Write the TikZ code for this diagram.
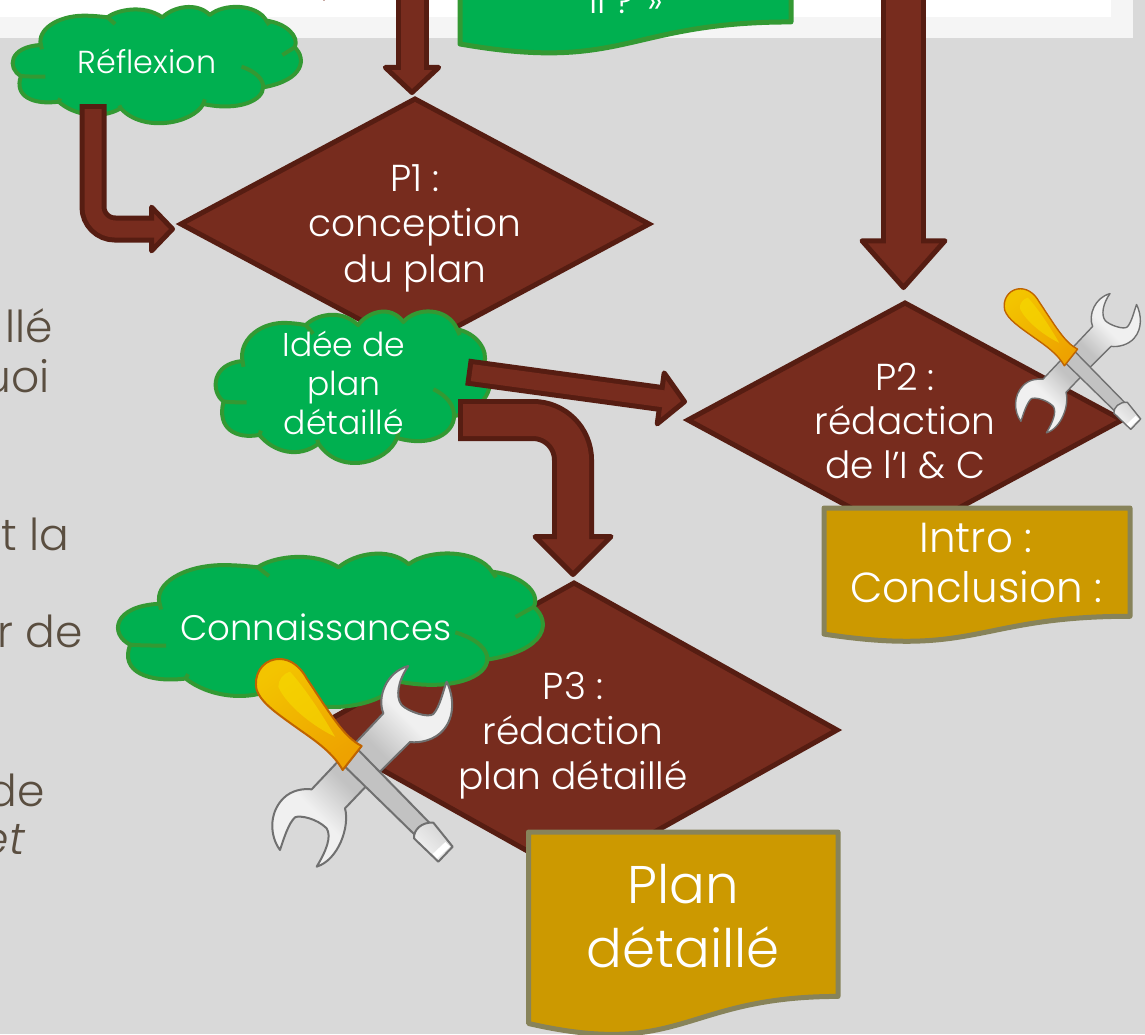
\documentclass[tikz,border=0pt]{standalone}
\usepackage{fontspec}
\setmainfont{Poppins}[UprightFont=* Light,ItalicFont=* Light Italic]
\usetikzlibrary{arrows.meta,shapes.geometric,calc}
\definecolor{bgGray}{HTML}{D9D9D9}
\definecolor{bgLight}{HTML}{F5F5F5}
\definecolor{abrown}{HTML}{772C1E}
\definecolor{adark}{HTML}{561D12}
\definecolor{cgreen}{HTML}{00B050}
\definecolor{cedge}{HTML}{339933}
\definecolor{dgold}{HTML}{CC9900}
\definecolor{dedge}{HTML}{87835A}
\definecolor{leftTxt}{HTML}{5A4E40}
\definecolor{wedge}{HTML}{707070}
\definecolor{wlight}{HTML}{F0F0F0}
\definecolor{wmid}{HTML}{C2C2C2}
\definecolor{hedge}{HTML}{C06400}
\definecolor{htop}{HTML}{F3C400}
\definecolor{hbot}{HTML}{EEA200}
\definecolor{hhigh}{HTML}{F6DC00}
\pgfdeclarehorizontalshading{wrenchshade}{100bp}{color(0bp)=(wlight); color(33bp)=(wlight); color(44bp)=(wmid); color(56bp)=(wmid); color(67bp)=(wlight); color(100bp)=(wlight)}
\tikzset{
  decision/.style={diamond,draw=adark,fill=abrown,line width=5pt,aspect=1,inner sep=0pt,outer sep=0pt},
  lab/.style={text=white,align=center,inner sep=0pt},
  sidetext/.style={text=leftTxt,anchor=base east,inner sep=0pt,font=\fontsize{44}{44}\selectfont},
  docstyle/.style={line width=5pt,line join=round},
}
% cloud: x0 y0 width height
\newcommand\cloudshape[4]{%
 \begin{scope}[shift={({#1-35*(#3)/875},{#2-15*(#4)/357})},x=#3pt/875,y=-#4pt/357]
 \filldraw[fill=cgreen,draw=cedge,line width=4pt,line join=round]
 (122,135) .. controls (110,90) and (170,48) .. (250,47)
 .. controls (280,47) and (305,50) .. (322,52)
 .. controls (350,30) and (430,12) .. (487,52)
 .. controls (520,20) and (590,5) .. (630,45)
 .. controls (670,10) and (770,10) .. (800,62)
 .. controls (860,70) and (900,110) .. (885,142)
 .. controls (920,175) and (915,240) .. (790,262)
 .. controls (790,300) and (720,335) .. (610,312)
 .. controls (580,370) and (430,400) .. (362,325)
 .. controls (300,360) and (220,345) .. (175,305)
 .. controls (100,315) and (40,290) .. (62,228)
 .. controls (20,205) and (25,140) .. (122,135) -- cycle;
 \draw[cedge,line width=4pt]
 (322,52) -- (345,72) (122,135) -- (125,148)
 (62,228) .. controls (85,230) and (110,230) .. (135,230)
 (800,62) -- (808,75) (885,142) -- (848,165)
 (790,262) .. controls (792,240) and (770,215) .. (725,200)
 (610,312) -- (615,298) (362,325) -- (358,316) (175,305) -- (180,295);
 \end{scope}}
% document: x0 y0 x1 h fill edge
\newcommand\docshape[6]{%
 \filldraw[docstyle,fill=#5,draw=#6] (#1,#2) -- (#3,#2) -- (#3,{#2+.802*#4})
 .. controls ({(#1+#3)/2},{#2+.802*#4}) and ({(#1+#3)/2},{#2+1.107*#4}) .. (#1,{#2+.934*#4}) -- cycle;}
% block arrow: stem width, head length, head width, path
\newcommand\barrow[4]{%
 \draw[line width=#1pt,color=adark,-{Triangle[length=#2pt,width=#3pt,fill=abrown,color=adark,line width=5pt,round]}] #4;
 \draw[line width={#1pt-10pt},color=abrown,shorten >={#2pt-7pt},shorten <=5pt] #4;}
% tools icon: shiftx shifty unit
\newcommand\toolicon[3]{%
 \begin{scope}[shift={(#1,#2)},x=#3pt,y=-#3pt]
 \pgfmathsetmacro\lw{6*#3}
 \filldraw[draw=wedge,line width=\lw pt,line join=round,shading=wrenchshade,shading angle=45]
 (925,378) .. controls (895,420) and (885,470) .. (905,495)
 .. controls (925,515) and (985,535) .. (1000,522)
 .. controls (1020,500) and (1030,450) .. (1040,425)
 .. controls (1062,470) and (1065,530) .. (1030,570)
 .. controls (1005,600) and (960,610) .. (930,606)
 -- (840,695) -- (735,805)
 .. controls (750,860) and (715,960) .. (650,980)
 .. controls (680,930) and (695,890) .. (680,865)
 .. controls (650,835) and (600,825) .. (585,832)
 .. controls (565,850) and (550,900) .. (540,930)
 .. controls (510,890) and (505,820) .. (550,775)
 .. controls (575,750) and (610,745) .. (635,748)
 -- (850,520)
 .. controls (830,470) and (860,395) .. (925,378) -- cycle;
 \filldraw[draw=wedge,line width=\lw pt,line join=round,fill=wmid] (775,630) -- (990,850) -- (945,885) -- (735,680) -- cycle;
 \filldraw[draw=wedge,line width=\lw pt,line join=round,top color=gray!35,bottom color=gray!8,shading angle=-45]
 (942,895) .. controls (940,870) and (965,845) .. (1000,848) -- (1058,920) -- (1015,965) -- cycle;
 \fill[white] (1050,920) -- (1012,955) -- (998,942) -- (1036,906) -- cycle;
 \filldraw[draw=hedge,line width=\lw pt,line join=round,top color=htop,bottom color=hbot,shading angle=35]
 (728,690) -- (785,618)
 .. controls (730,590) and (690,520) .. (620,415)
 .. controls (595,370) and (560,352) .. (525,358)
 .. controls (485,365) and (460,405) .. (470,450)
 .. controls (485,490) and (530,520) .. (600,570)
 .. controls (650,605) and (700,640) .. (728,690) -- cycle;
 \fill[hhigh,opacity=.6] (570,395) .. controls (620,450) and (670,530) .. (705,590)
 .. controls (650,565) and (560,500) .. (535,440) .. controls (535,420) and (550,400) .. (570,395) -- cycle;
 \end{scope}}
\begin{document}
\begin{tikzpicture}[x=1pt,y=-1pt]
\clip (0,0) rectangle (1145,1034);
\useasboundingbox (0,0) rectangle (1145,1034);
\fill[bgGray] (0,0) rectangle (1145,1034);
\fill[bgLight] (0,0) rectangle (1133,38);
\fill[white] (0,0) rectangle (1111,17);
\fill[abrown!40!white] (322.5,0) rectangle (324.5,1);
% left fragments
\node[sidetext] (l1) at (53,342) {llé};
\node[sidetext] (l2) at (50,392) {uoi};
\node[sidetext] (l3) at (69,550) {t la};
\node[sidetext] (l4) at (83,647) {r de};
\node[sidetext] (l5) at (45,806) {de};
\node[sidetext] (l6) at (25,854) {\itshape et};
% top green document
\docshape{460}{-112}{791}{167}{cgreen}{cedge}
\node[lab,anchor=base,font=\fontsize{36}{40}\selectfont] (topdoc) at (626,13.5) {il ? »};
% clouds and diamonds
\cloudshape{12}{5}{291}{119}
\node[lab,font=\fontsize{31.8}{36}\selectfont] (refl) at (147,61) {Réflexion};
\node[decision,minimum width=468pt,minimum height=250pt] (p1) at (415,224) {};
\node[lab,font=\fontsize{37.5}{45.5}\selectfont] (p1t) at (415,228) {P1 :\\conception\\du plan};
\node[decision,minimum width=434pt,minimum height=234pt] (p2) at (905,420) {};
\node[lab,font=\fontsize{37.5}{44}\selectfont] (p2t) at (905,421) {P2 :\\rédaction\\de l’I \& C};
\node[decision,minimum width=526pt,minimum height=294pt] (p3) at (574,730) {};
\node[lab,font=\fontsize{37.5}{45}\selectfont] (p3t) at (573,735.5) {P3 :\\rédaction\\plan détaillé};
\cloudshape{215}{309}{277}{155}
\node[lab,font=\fontsize{33}{39}\selectfont] (idee) at (344,383) {Idée de\\plan\\détaillé};
\cloudshape{117}{551}{429}{157}
\node[lab,font=\fontsize{35.5}{40}\selectfont] (conn) at (316,627) {Connaissances};
% tools
\toolicon{896}{206.2}{0.2313}
\toolicon{100}{540}{0.33333}
% documents
\docshape{824}{508}{1130}{135}{dgold}{dedge}
\node[lab,font=\fontsize{42}{50}\selectfont] (intro) at (976,563) {Intro :\\Conclusion :};
\docshape{528.5}{832}{838}{205}{dgold}{dedge}
\node[lab,font=\fontsize{53}{64}\selectfont] (plan) at (683,916) {Plan\\détaillé};
% connectors
\coordinate (a1s) at (412,-6); \coordinate (a1e) at (412,95);
\coordinate (a2s) at (903.5,-6); \coordinate (a2e) at (903.5,290);
\coordinate (a3s) at (93,104); \coordinate (a3e) at (175,229);
\coordinate (a4s) at (467,372); \coordinate (a4e) at (687,402);
\coordinate (a5s) at (458,420); \coordinate (a5e) at (573,577);
\barrow{33}{31}{65}{(a1s) -- (a1e)}
\barrow{45}{53}{93}{(a2s) -- (a2e)}
\begin{scope}[rounded corners=22pt]\barrow{27}{27}{55}{(a3s) |- (a3e)}\end{scope}
\barrow{27}{30}{63}{(a4s) -- (a4e)}
\begin{scope}[rounded corners=40pt]\barrow{42}{44}{87}{(a5s) -| (a5e)}\end{scope}
\end{tikzpicture}
\end{document}
